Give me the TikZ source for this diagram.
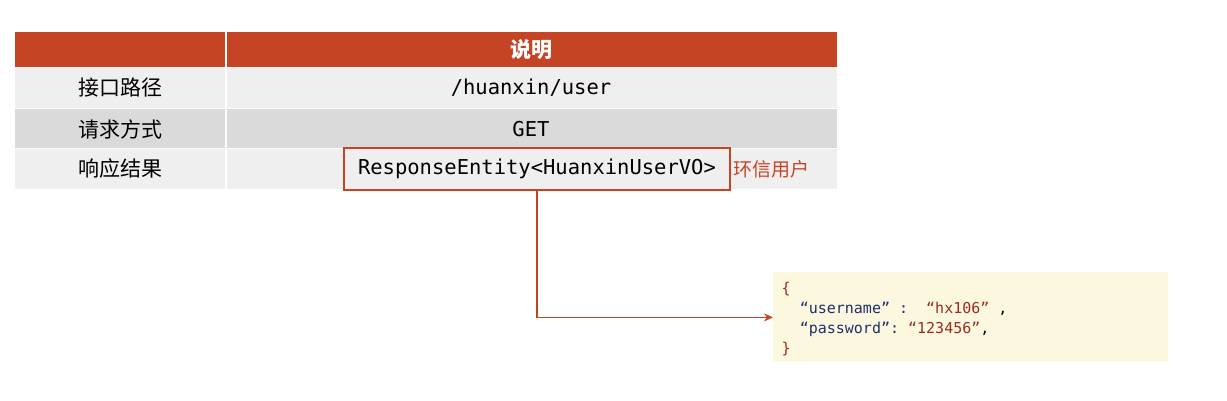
\documentclass[tikz,border=0pt]{standalone}
\usepackage{fontspec}
\usetikzlibrary{arrows.meta}
\setmainfont{Noto Sans CJK SC}
\setmonofont{DejaVu Sans Mono}
\newfontfamily\cjk{Noto Sans CJK SC}
\definecolor{hdrred}{HTML}{C44424}
\definecolor{rowlight}{HTML}{EFEFEF}
\definecolor{rowdark}{HTML}{DADADA}
\definecolor{codebg}{HTML}{FCF8E0}
\definecolor{keyblue}{HTML}{1F2F6B}
\definecolor{valred}{HTML}{A02A1E}
\tikzset{every picture/.style={line width=0.75pt}}
\tikzset{
  celltext/.style={font=\fontsize{21}{24}\selectfont\cjk},
  monotext/.style={font=\fontsize{20.5}{24}\selectfont\ttfamily}
}
\begin{document}
\begin{tikzpicture}[x=1pt,y=1pt,yscale=-1,xscale=1]
\useasboundingbox (0,0) rectangle (1227,400);

%Table rows
\fill[hdrred] (15,32) rectangle (837,67);
\fill[rowlight] (15,68) rectangle (837,108);
\fill[rowdark] (15,109) rectangle (837,148);
\fill[rowlight] (15,149) rectangle (837,189);
%Column separator
\draw[white,line width=1.5pt] (226,32) -- (226,189);

% Text Node
\node[celltext,text=white,font=\fontsize{21}{24}\selectfont\cjk\bfseries] (hdr) at (531,50) {说明};
\node[celltext] (k1) at (120,88) {接口路径};
\node[celltext] (k2) at (120,129) {请求方式};
\node[celltext] (k3) at (120,169) {响应结果};
\node[monotext] (v1) at (531,88) {/huanxin/user};
\node[monotext] (v2) at (531,129) {GET};
\node[monotext,draw=hdrred,line width=2pt,minimum width=386pt,minimum height=42pt] (v3) at (537,169) {ResponseEntity<HuanxinUserVO>};
\node[celltext,text=hdrred,anchor=west,font=\fontsize{19}{22}\selectfont\cjk,inner sep=2pt] (note) at (v3.east) {环信用户};

%Code box
\node[fill=codebg,minimum width=395pt,minimum height=90pt,anchor=north west] (code) at (773,272) {};
\node[anchor=north west,align=left,font=\fontsize{15}{20}\selectfont\ttfamily] (json) at (778,278)
  {\textcolor{valred}{\{}\\
   \ \ \textcolor{keyblue}{“username” :} \ \textcolor{valred}{“hx106”} ,\\
   \ \ \textcolor{keyblue}{“password”:} \textcolor{valred}{“123456”},\\
   \textcolor{valred}{\}}};

%Connector
\draw[hdrred,line width=1.5pt,-{Stealth[length=9pt,width=8pt]}] (v3.south) |- (code.west);

\end{tikzpicture}
\end{document}
